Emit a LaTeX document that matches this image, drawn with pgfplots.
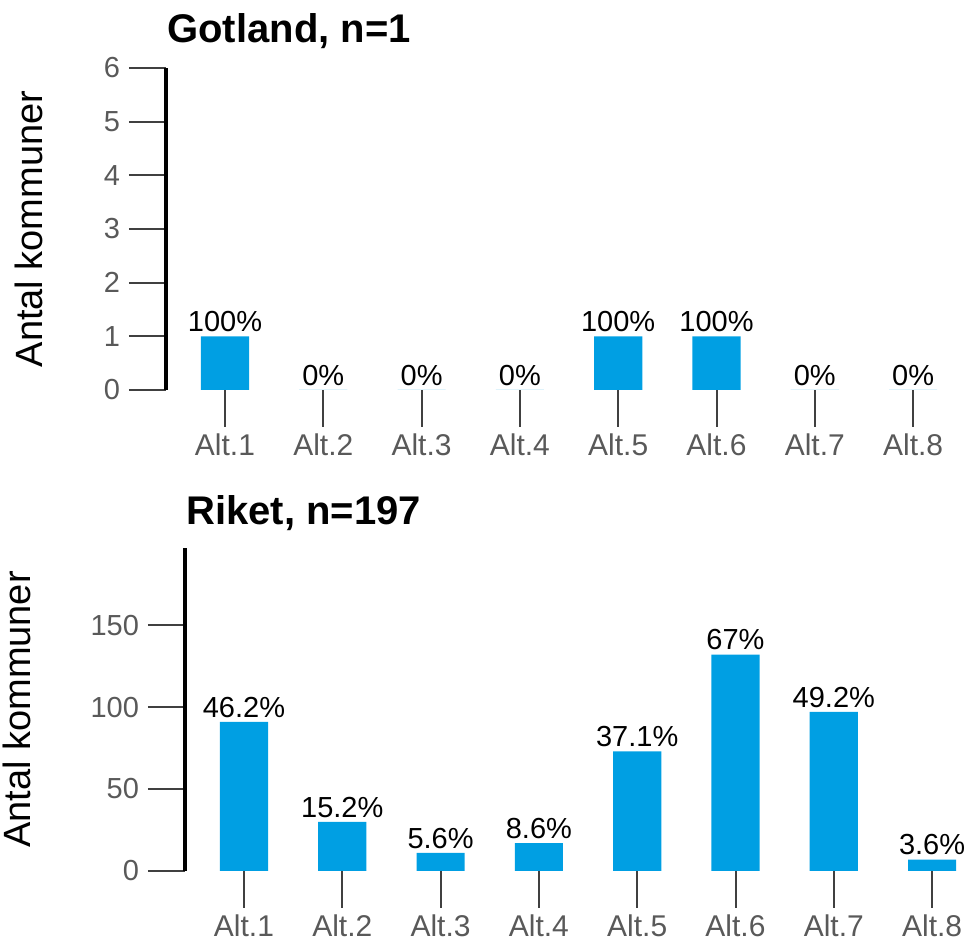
\documentclass[border=0pt]{standalone}
\usepackage{pgfplots}
\pgfplotsset{compat=1.18}
\usepackage{pgfplotstable}
\usepackage{fontspec}
\setmainfont{Liberation Sans}
\definecolor{barblue}{HTML}{009FE3}
\definecolor{ticklab}{HTML}{595959}
\definecolor{tickline}{HTML}{404040}

\pgfplotstableread{
x y lab
0 1 100
1 0 0
2 0 0
3 0 0
4 1 100
5 1 100
6 0 0
7 0 0
}\gotland

\pgfplotstableread{
x y lab
0 91 46.2
1 30 15.2
2 11 5.6
3 17 8.6
4 73 37.1
5 132 67
6 97 49.2
7 7 3.6
}\riket

\pgfplotsset{
  panel/.style={
    scale only axis,
    anchor=south west,
    xmin=-0.6, xmax=7.3,
    width=388.3pt,
    axis y line*=left,
    axis x line*=bottom,
    y axis line style={line width=2pt, -, black},
    x axis line style={draw=none},
    tick align=outside,
    major tick length=18.5pt,
    every tick/.style={tickline, line width=1pt},
    /pgf/number format/assume math mode=true,
    ticklabel style={font=\fontsize{14.5}{17}\selectfont, text=ticklab},
    xtick={0,...,7},
    xticklabels={Alt.1,Alt.2,Alt.3,Alt.4,Alt.5,Alt.6,Alt.7,Alt.8},
    xticklabel style={inner sep=0pt, yshift=-3pt, font=\fontsize{15}{18}\selectfont},
    yticklabel style={xshift=-1pt},
    ylabel={Antal kommuner},
    title style={at={(0,1)}, anchor=base west, font=\bfseries\fontsize{20}{24}\selectfont, inner sep=0pt},
    ybar, bar width=0.49,
    nodes near coords={\pgfplotspointmeta\%},
    every node near coord/.append style={font=\fontsize{14.5}{17}\selectfont, text=black, inner sep=0pt, yshift=2pt, anchor=south},
    point meta=explicit symbolic,
    clip=false,
  }
}

\begin{document}
\begin{tikzpicture}
\useasboundingbox (0,0) rectangle (485pt,471pt);
\begin{axis}[panel,
  at={(83pt,276pt)},
  height=161pt,
  ymin=0, ymax=6, ytick={0,...,6},
  title={Gotland, n=1},
  title style={yshift=6.5pt, xshift=0.5pt},
  every axis y label/.style={at={(axis description cs:-0.1764,0.5)}, rotate=90, anchor=center, font=\fontsize{19}{23}\selectfont},
]
\addplot[fill=barblue, draw=none] table[x=x, y=y, meta=lab] {\gotland};
\end{axis}
\begin{axis}[panel,
  at={(92.5pt,35.5pt)},
  height=161.5pt,
  ymin=0, ymax=197, ytick={0,50,100,150},
  title={Riket, n=197},
  title style={yshift=5.5pt, xshift=0.5pt},
  every axis y label/.style={at={(axis description cs:-0.2163,0.5)}, rotate=90, anchor=center, font=\fontsize{19}{23}\selectfont},
]
\addplot[fill=barblue, draw=none] table[x=x, y=y, meta=lab] {\riket};
\end{axis}
\end{tikzpicture}
\end{document}
